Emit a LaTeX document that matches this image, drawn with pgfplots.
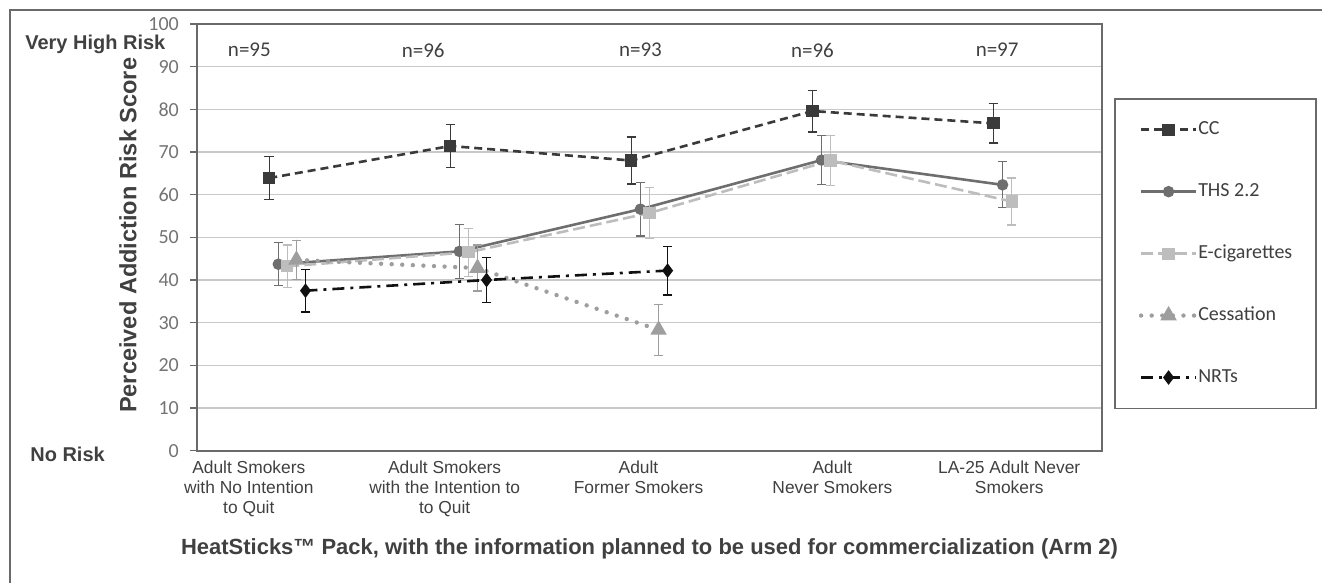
\documentclass[border=0pt]{standalone}
\usepackage{pgfplots}
\pgfplotsset{compat=1.18}
\usepackage{fontspec}
\setmainfont{Liberation Sans}
\newfontfamily\calibri{Carlito}

\definecolor{ccc}{HTML}{3A3A3A}
\definecolor{thsc}{HTML}{6E6E6E}
\definecolor{ecigc}{HTML}{BDBDBD}
\definecolor{cessc}{HTML}{9E9E9E}
\definecolor{nrtc}{HTML}{111111}
\definecolor{framec}{HTML}{6A6A6A}
\definecolor{gridc}{HTML}{C9C9C9}
\definecolor{txtc}{HTML}{404040}

\pgfplotsset{
  eb/.style={error bars/y dir=both, error bars/y explicit,
    error bars/error bar style={solid, line width=0.6pt, #1},
    error bars/error mark options={rotate=90, mark size=2.4pt, line width=0.6pt, #1}},
}

\begin{document}
\begin{tikzpicture}[x=0.5pt,y=-0.5pt]
\path (0,0) rectangle (1323,583);
\draw[framec, line width=1pt] (10,583) -- (10,10) -- (1323,10);

\begin{axis}[
  at={(98.5pt,-225.5pt)}, anchor=south west,
  scale only axis, width=453pt, height=213.5pt,
  xmin=0.5, xmax=5.5, ymin=0, ymax=100,
  xtick=\empty,
  ytick={0,10,...,100}, ytick pos=left,
  ymajorgrids, grid style={gridc, line width=0.6pt},
  axis line style={framec, line width=0.9pt},
  tick align=outside, major tick length=3.5pt,
  ytick style={framec, line width=0.6pt},
  /pgf/number format/assume math mode=true,
  yticklabel style={font=\calibri\fontsize{10}{12}\selectfont, text=gray!90!black, xshift=-2pt},
  legend style={at={(1.0132,0.8267)}, anchor=north west, draw=framec, line width=0.8pt,
    inner xsep=12pt, inner ysep=11pt, row sep=22pt,
    font=\calibri\fontsize{10}{12}\selectfont, text=txtc,
    nodes={inner sep=0pt, text height=7pt, text depth=2pt}},
  legend cell align=left,
  legend image code/.code={\draw[mark repeat=2,mark phase=2] plot coordinates {(0pt,0pt)(13.75pt,0pt)(27.5pt,0pt)};},
]
% CC
\addplot[ccc, line width=1.3pt, dash pattern=on 4pt off 2.5pt, mark=square*, mark size=2.4pt, mark options={solid}, eb=ccc]
  coordinates {(0.9,63.9) +- (0,5.1) (1.9,71.4) +- (0,5.0) (2.9,68.0) +- (0,5.5) (3.9,79.6) +- (0,4.9) (4.9,76.7) +- (0,4.6)};
\addlegendentry{CC}
% THS 2.2
\addplot[thsc, line width=1.3pt, mark=*, mark size=2.2pt, mark options={solid}, eb=thsc]
  coordinates {(0.95,43.7) +- (0,5.0) (1.95,46.7) +- (0,6.3) (2.95,56.6) +- (0,6.3) (3.95,68.1) +- (0,5.7) (4.95,62.3) +- (0,5.4)};
\addlegendentry{THS 2.2}
% E-cigarettes
\addplot[ecigc, line width=1.3pt, dash pattern=on 6pt off 2.5pt, mark=square*, mark size=2.4pt, mark options={solid}, eb=ecigc]
  coordinates {(1,43.2) +- (0,5.0) (2,46.5) +- (0,5.6) (3,55.7) +- (0,6.0) (4,68.0) +- (0,5.8) (5,58.4) +- (0,5.5)};
\addlegendentry{E-cigarettes}
% Cessation
\addplot[cessc, line width=2.2pt, line cap=round, dash pattern=on 0pt off 5.3pt, mark=triangle*, mark size=2.6pt, mark options={solid}, eb=cessc]
  coordinates {(1.05,44.7) +- (0,4.6) (2.05,42.8) +- (0,5.4) (3.05,28.3) +- (0,6.0)};
\addlegendentry{Cessation}
% NRTs
\addplot[nrtc, line width=1.3pt, dash pattern=on 6pt off 3pt on 1.5pt off 3pt, mark=diamond*, mark size=2.6pt, mark options={solid}, eb=nrtc]
  coordinates {(1.1,37.5) +- (0,5.0) (2.1,40.0) +- (0,5.3) (3.1,42.2) +- (0,5.7)};
\addlegendentry{NRTs}

\begin{scope}[every node/.style={font=\calibri\fontsize{10.5}{12}\selectfont, text=txtc}]
\node at (axis cs:0.79,93.9) {n=95};
\node at (axis cs:1.75,93.9) {n=96};
\node at (axis cs:2.95,93.9) {n=93};
\node at (axis cs:3.90,93.9) {n=96};
\node at (axis cs:4.92,93.9) {n=97};
\end{scope}
\end{axis}

\begin{scope}[every node/.style={font=\fontsize{8.7}{10}\selectfont, text=txtc, align=center, anchor=north, inner sep=0pt}]
\node at (249,461) {Adult Smokers\\with No Intention\\to Quit};
\node at (445,461) {Adult Smokers\\with the Intention to\\to Quit};
\node at (639,461) {Adult\\Former Smokers};
\node at (833,461) {Adult\\Never Smokers};
\node at (1010,461) {LA-25 Adult Never\\Smokers};
\end{scope}

\node[font=\bfseries\fontsize{11}{13}\selectfont, text=txtc] at (650,549) {HeatSticks™ Pack, with the information planned to be used for commercialization (Arm 2)};
\node[font=\bfseries\fontsize{11.8}{14}\selectfont, text=txtc, rotate=90] at (128,235.5) {Perceived Addiction Risk Score};
\node[font=\bfseries\fontsize{10}{12}\selectfont, text=txtc, anchor=west, inner sep=0pt] at (25,44) {Very High Risk};
\node[font=\bfseries\fontsize{10}{12}\selectfont, text=txtc, anchor=west, inner sep=0pt] at (30,455) {No Risk};
\end{tikzpicture}
\end{document}
